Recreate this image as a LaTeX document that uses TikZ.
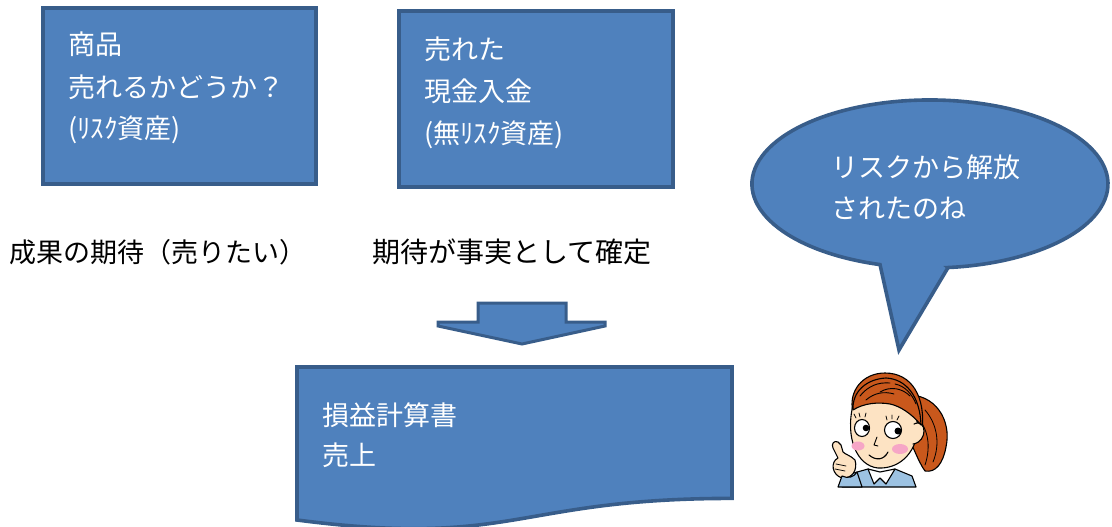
\documentclass[tikz,border=0pt]{standalone}
\usepackage{fontspec}
\newfontfamily\jp{Noto Sans CJK JP}
\definecolor{boxfill}{HTML}{4F81BD}
\definecolor{boxline}{HTML}{385D8A}
\definecolor{hair}{HTML}{C9581C}
\definecolor{skin}{HTML}{FDE3C3}
\definecolor{cheek}{HTML}{F6A6C6}
\definecolor{shirt}{HTML}{9CC2E2}
\tikzset{
  panel/.style={fill=boxfill, draw=boxline, line width=3.6pt, line join=miter},
  intext/.style={anchor=base west, inner sep=0pt, text=white, font=\jp\fontsize{27}{30}\selectfont},
  outtext/.style={anchor=base west, inner sep=0pt, text=black, font=\jp\fontsize{27}{30}\selectfont},
  ink/.style={draw=black, line width=1.1pt, line join=round, line cap=round},
}
\begin{document}
\begin{tikzpicture}[x=1pt, y=-1pt]
\useasboundingbox (0,0) rectangle (1112,527);

% upper boxes
\draw[panel] (43,8) rectangle (316,184);
\node[intext] (a1) at (68,55) {商品};
\node[intext] (a2) at (68,97) {売れるかどうか？};
\node[intext] (a3) at (68,139) {(ﾘｽｸ資産)};

\draw[panel] (399,11) rectangle (673,187);
\node[intext] (b1) at (424,60) {売れた};
\node[intext] (b2) at (424,102) {現金入金};
\node[intext] (b3) at (424,143) {(無ﾘｽｸ資産)};

% captions under the boxes
\node[outtext] (c1) at (9,262) {成果の期待（売りたい）};
\node[outtext, font=\jp\fontsize{28}{30}\selectfont] (c2) at (372,262) {期待が事実として確定};

% wide down arrow
\draw[panel, line width=3pt] (438,322) -- (478,322) -- (478,303) -- (566,303) -- (566,322)
  -- (605,322) -- (605,326) -- (522,344) -- (438,326) -- cycle;

% document shape
\draw[panel] (297,367) -- (732,367) -- (732,498.4)
  .. controls (514.5,498.4) and (514.5,548.3) .. (297,520) -- cycle;
\node[intext] (d1) at (322,425) {損益計算書};
\node[intext] (d2) at (322,465) {売上};

% speech balloon
\draw[panel] (948,267.6) -- (899,350) -- (880,264.6)
  arc[start angle=106.3, end angle=444.2, x radius=178, y radius=84] -- cycle;
\node[intext] (e1) at (831,177) {リスクから解放};
\node[intext] (e2) at (831,218) {されたのね};

% girl: ponytail
\filldraw[ink, fill=hair] (905,395) .. controls (935,393) and (952,420) .. (946,447)
  .. controls (943,463) and (936,473) .. (925,471) .. controls (917,460) and (912,442) .. (905,432) -- cycle;
\draw[ink, line width=0.8pt] (925,410) .. controls (938,425) and (940,445) .. (933,462);
\draw[ink, line width=0.8pt] (918,418) .. controls (930,432) and (930,450) .. (925,465);
% back of the head
\filldraw[ink, fill=hair] (853,412) .. controls (848,392) and (862,373) .. (885,373)
  .. controls (912,373) and (926,397) .. (922,432) -- cycle;
% shirt and collar
\filldraw[ink, fill=shirt] (842,487) -- (850,474) -- (868,469) -- (880,478) -- (895,469)
  -- (912,476) -- (916,487) -- cycle;
\filldraw[ink, fill=white] (868,469) -- (874,484) -- (880,478) -- (886,484) -- (895,469) -- (880,472) -- cycle;
% face
\filldraw[ink, fill=skin] (853,405) .. controls (845,438) and (857,466) .. (878,468)
  .. controls (898,469) and (915,455) .. (918,430) .. controls (918,415) and (910,404) .. (900,400)
  .. controls (880,398) and (860,398) .. (853,405) -- cycle;
% ear
\filldraw[ink, fill=skin] (914,424) .. controls (927,418) and (928,442) .. (913,444);
% bangs
\filldraw[ink, fill=hair] (853,410) .. controls (852,392) and (866,379) .. (886,378)
  .. controls (906,379) and (920,396) .. (921,425) .. controls (912,414) and (900,406) .. (890,404)
  .. controls (878,402) and (864,403) .. (853,410) -- cycle;
\draw[ink, line width=0.9pt] (860,396) .. controls (868,386) and (878,382) .. (890,383);
\draw[ink, line width=0.9pt] (880,392) .. controls (890,386) and (902,388) .. (910,396);
\draw[ink, line width=0.9pt] (895,384) .. controls (905,386) and (912,394) .. (916,404);
\draw[ink, line width=0.9pt] (866,400) .. controls (874,393) and (884,391) .. (894,394);
% eyes
\filldraw[ink, fill=white] (862,428) ellipse[x radius=7.5, y radius=8.5];
\filldraw[ink, fill=white] (893,430) ellipse[x radius=8.5, y radius=8.5];
\fill (866,428) circle[radius=3.3];
\fill (898,431) circle[radius=3.5];
\draw[ink, line width=0.8pt] (856,418) -- (854,414) (860,417) -- (859,413) (865,417) -- (866,413);
\draw[ink, line width=0.8pt] (887,420) -- (886,416) (892,419) -- (892,415) (897,420) -- (899,416);
% cheeks
\fill[cheek] (858,446) ellipse[x radius=6.5, y radius=4.5];
\fill[cheek] (900,449) ellipse[x radius=8, y radius=5];
% nose and mouth
\draw[ink, line width=0.9pt] (877,437) -- (874,445) -- (878,446);
\draw[ink] (869,455) .. controls (876,461) and (884,460) .. (888,452);
% hand
\filldraw[ink, fill=skin] (838,442) .. controls (834,440) and (831,444) .. (833,448) -- (838,458)
  .. controls (830,462) and (832,475) .. (842,478) .. controls (852,479) and (858,470) .. (855,460)
  .. controls (850,455) and (846,455) .. (843,452) -- (841,445) .. controls (840,443) .. (838,442) -- cycle;
\draw[ink, line width=0.7pt] (836,464) -- (846,466) (835,469) -- (845,471);
\filldraw[ink, fill=shirt] (838,487) -- (842,476) .. controls (848,479) and (854,477) .. (857,472) -- (862,487) -- cycle;
\end{tikzpicture}
\end{document}
